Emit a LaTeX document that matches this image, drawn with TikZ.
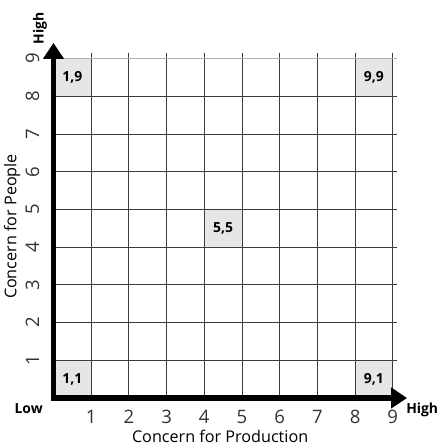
\documentclass[tikz,border=0pt]{standalone}
\usepackage{fontspec}
\setmainfont{Open Sans}
\usetikzlibrary{arrows.meta}
\definecolor{cellgray}{RGB}{230,230,232}
\definecolor{gridline}{RGB}{60,60,60}

\begin{document}
\begin{tikzpicture}[
  gridln/.style={draw=gridline, line width=0.65pt},
  cell/.style={fill=cellgray},
  celllabel/.style={font=\bfseries\fontsize{10.5}{12}\selectfont},
  tick/.style={font=\fontsize{14}{16}\selectfont, text=black!80},
  ends/.style={font=\bfseries\fontsize{10.5}{12}\selectfont},
  axistitle/.style={font=\fontsize{12.2}{14}\selectfont},
  axis/.style={line width=3.8pt, -{Triangle[width=15pt,length=12pt]}}
]
\useasboundingbox (-1.419,-1.247) rectangle (10.385,10.557);

% highlighted cells
\fill[cell] (0,8) rectangle (1,9);
\fill[cell] (8,8) rectangle (9,9);
\fill[cell] (4,4) rectangle (5,5);
\fill[cell] (0,0) rectangle (1,1);
\fill[cell] (8,0) rectangle (9,1);

% grid
\foreach \i in {1,...,9} {
  \draw[gridln] (\i,0) -- (\i,9.15);
}
\foreach \j in {1,...,8} {
  \draw[gridln] (0,\j) -- (9.12,\j);
}
\draw[gridln, draw=black!30] (0,9) -- (9.12,9);

% cell labels
\node[celllabel] (c19) at (0.5,8.5) {1,9};
\node[celllabel] (c99) at (8.5,8.5) {9,9};
\node[celllabel] (c55) at (4.5,4.5) {5,5};
\node[celllabel] (c11) at (0.5,0.5) {1,1};
\node[celllabel] (c91) at (8.5,0.5) {9,1};

% axes
\coordinate (origin) at (0,0);
\coordinate (xend) at (9.38,0);
\coordinate (yend) at (0,9.42);
\draw[axis] ([xshift=-1.9pt]origin) -- (xend);
\draw[axis] ([yshift=-1.9pt]origin) -- (yend);

% tick numbers
\foreach \k in {1,...,9} {
  \node[tick] (xt\k) at (\k,-0.5) {\k};
  \node[tick, rotate=90] (yt\k) at (-0.56,\k) {\k};
}

% end labels
\node[ends] (low) at (-0.66,-0.28) {Low};
\node[ends] (xhigh) at (9.78,-0.32) {High};
\node[ends, rotate=90] (yhigh) at (-0.36,9.81) {High};

% axis titles
\node[axistitle] (xtitle) at (4.42,-1.03) {Concern for Production};
\node[axistitle, rotate=90] (ytitle) at (-1.1,4.55) {Concern for People};

\end{tikzpicture}
\end{document}
